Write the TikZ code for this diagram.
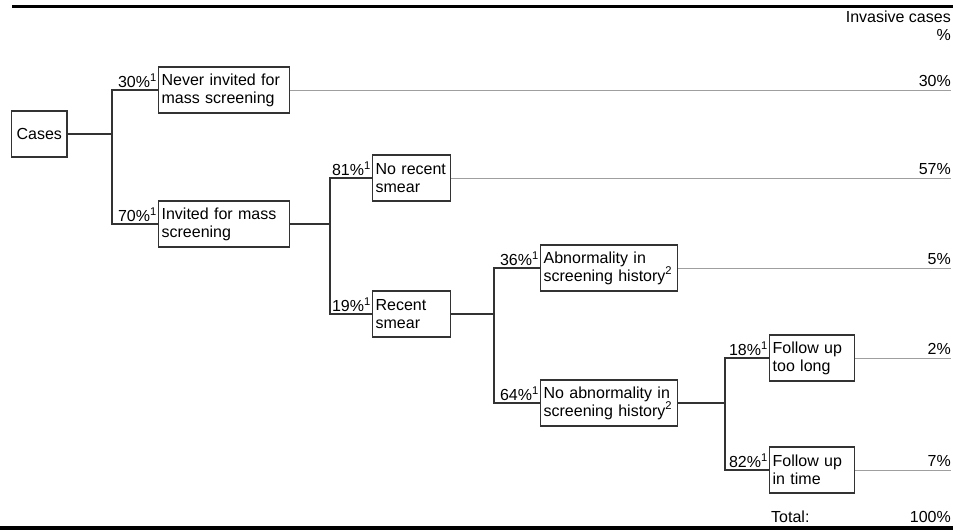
\documentclass[tikz,border=0pt]{standalone}
\usepackage{fontspec}
\setmainfont{Liberation Sans}
\usetikzlibrary{positioning}

\begin{document}
\begin{tikzpicture}[x=1pt,y=-1pt,
		font=\fontsize{16}{18}\selectfont,
		box/.style={draw=black!80, line width=1.3pt, align=left, anchor=west,
			inner xsep=3pt, inner ysep=0pt, minimum height=46pt},
		branch/.style={black!80, line width=1.3pt},
		share/.style={anchor=south east, inner xsep=1pt, inner ysep=2pt},
		tail/.style={gray!75, line width=0.9pt},
		invasive/.style={anchor=south east, inner xsep=0pt, inner ysep=3pt}
	]
	\useasboundingbox (0,0) rectangle (953,532);
	
	% Top and bottom rules
	\draw[line width=3pt] (12,7) -- (953,7);
	\draw[line width=4pt] (0,528) -- (953,528);
	\node[anchor=north east, align=right, inner sep=0pt] (head) at (951,11) {Invasive cases\\\%};
	
	% Boxes
	\node[box, inner xsep=5pt] (cases) at (11,134) {Cases};
	\node[box, text width=125pt] (never) at (158,90) {Never invited for\\mass screening};
	\node[box, text width=125pt] (invited) at (158,224) {Invited for mass\\screening};
	\node[box, text width=72pt] (norecent) at (372,178) {No recent\\smear};
	\node[box, text width=72pt] (recent) at (372,314) {Recent\\smear};
	\node[box, text width=131pt] (abn) at (540,268) {Abnormality in\\screening history\textsuperscript{2}};
	\node[box, text width=131pt] (noabn) at (540,403) {No abnormality in\\screening history\textsuperscript{2}};
	\node[box, text width=79pt] (fulong) at (769,358) {Follow up\\too long};
	\node[box, text width=79pt] (futime) at (769,470) {Follow up\\in time};
	
	% Junctions
	\coordinate (j1) at (112,134);
	\coordinate (j2) at (330,224);
	\coordinate (j3) at (494,314);
	\coordinate (j4) at (725,403);
	
	\draw[branch] (cases.east) -- (j1);
	\draw[branch] (j1) |- (never.west);
	\draw[branch] (j1) |- (invited.west);
	\draw[branch] (invited.east) -- (j2);
	\draw[branch] (j2) |- (norecent.west);
	\draw[branch] (j2) |- (recent.west);
	\draw[branch] (recent.east) -- (j3);
	\draw[branch] (j3) |- (abn.west);
	\draw[branch] (j3) |- (noabn.west);
	\draw[branch] (noabn.east) -- (j4);
	\draw[branch] (j4) |- (fulong.west);
	\draw[branch] (j4) |- (futime.west);
	
	% Shares
	\node[share] (s1) at (never.west) {30\%\textsuperscript{1}};
	\node[share] (s2) at (invited.west) {70\%\textsuperscript{1}};
	\node[share] (s3) at (norecent.west) {81\%\textsuperscript{1}};
	\node[share] (s4) at (recent.west) {19\%\textsuperscript{1}};
	\node[share] (s5) at (abn.west) {36\%\textsuperscript{1}};
	\node[share] (s6) at (noabn.west) {64\%\textsuperscript{1}};
	\node[share] (s7) at (fulong.west) {18\%\textsuperscript{1}};
	\node[share] (s8) at (futime.west) {82\%\textsuperscript{1}};
	
	% Invasive cases
	\coordinate (e1) at (951,90);
	\coordinate (e2) at (951,178);
	\coordinate (e3) at (951,268);
	\coordinate (e4) at (951,358);
	\coordinate (e5) at (951,470);
	\draw[tail] (never.east) -- (e1);
	\draw[tail] (norecent.east) -- (e2);
	\draw[tail] (abn.east) -- (e3);
	\draw[tail] (fulong.east) -- (e4);
	\draw[tail] (futime.east) -- (e5);
	\node[invasive] (p1) at (e1) {30\%};
	\node[invasive] (p2) at (e2) {57\%};
	\node[invasive] (p3) at (e3) {5\%};
	\node[invasive] (p4) at (e4) {2\%};
	\node[invasive] (p5) at (e5) {7\%};
	
	% Total
	\node[anchor=base west, inner sep=0pt] (total) at (771,522) {Total:};
	\node[anchor=base east, inner sep=0pt] (sum) at (951,522) {100\%};
\end{tikzpicture}
\end{document}
